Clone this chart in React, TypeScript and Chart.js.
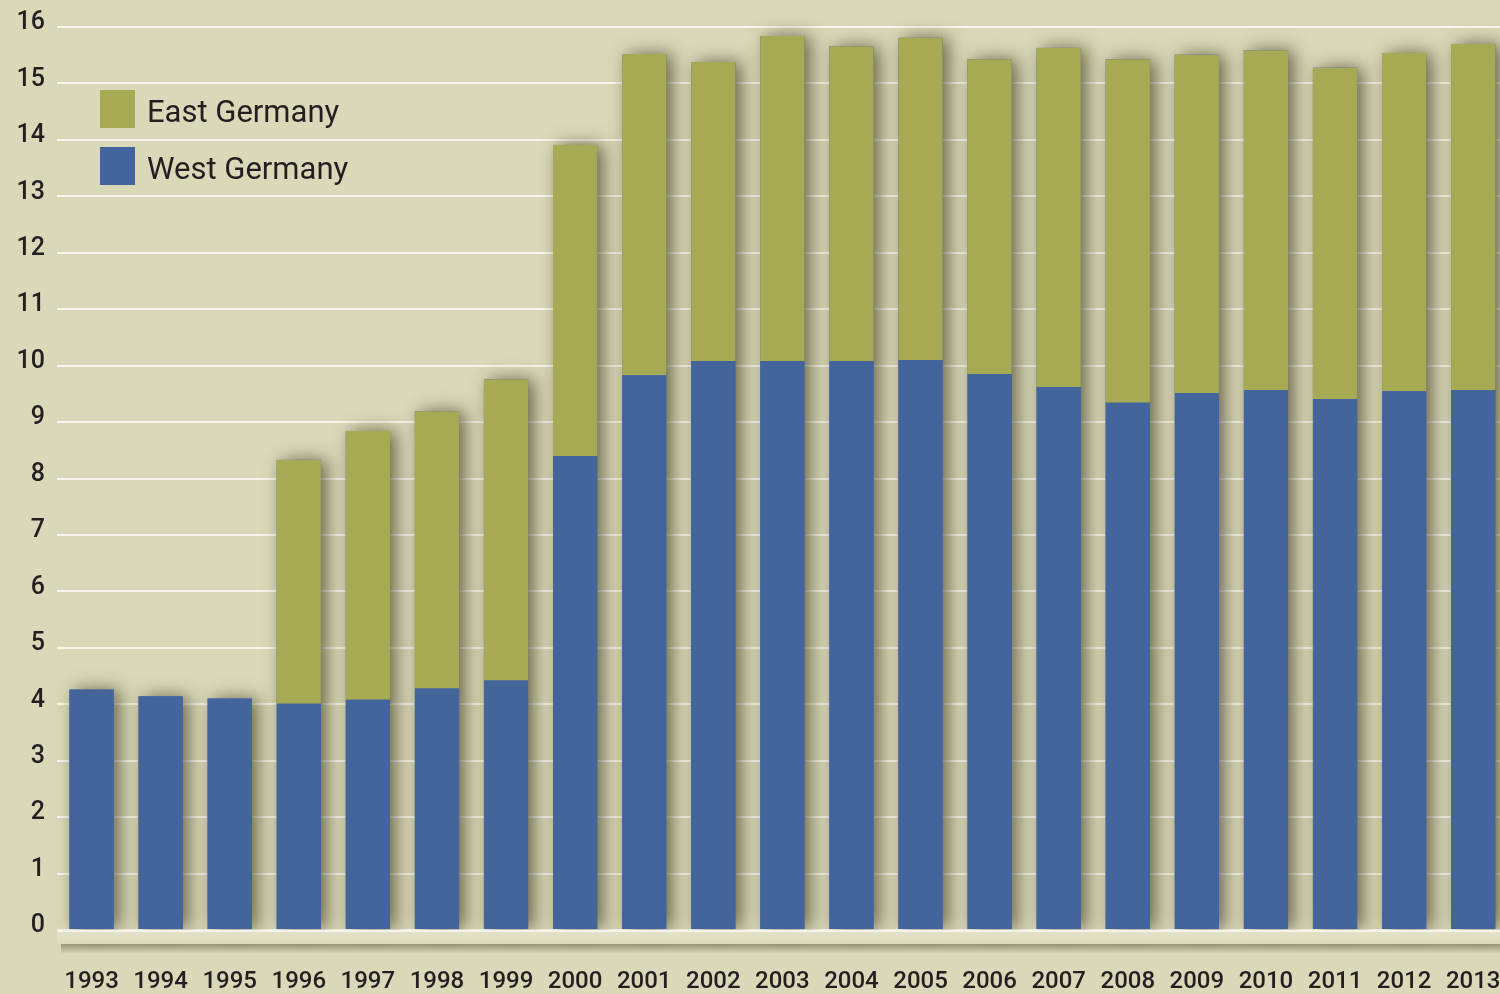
import React, { useEffect, useRef } from "react";
import { Chart, registerables } from "chart.js";

Chart.register(...registerables);

const years = ["1993","1994","1995","1996","1997","1998","1999","2000","2001","2002","2003","2004","2005","2006","2007","2008","2009","2010","2011","2012","2013"];
const westGermany = [4.26, 4.14, 4.10, 4.01, 4.08, 4.28, 4.42, 8.40, 9.83, 10.08, 10.08, 10.08, 10.10, 9.85, 9.62, 9.34, 9.51, 9.57, 9.41, 9.55, 9.57];
const eastGermany = [0, 0, 0, 4.32, 4.76, 4.91, 5.34, 5.51, 5.69, 5.30, 5.76, 5.58, 5.71, 5.58, 6.01, 6.09, 6.00, 6.02, 5.87, 5.99, 6.13];
const yTicks = [0, 16, 1];

const BG = "#d9d8b8";
const BLUE = "#44659c";
const OLIVE = "#a6aa55";
const TEXT = "#231f20";

const bgPlugin = {
  id: "bg",
  beforeDraw(chart: any) {
    const { ctx, width, height } = chart;
    ctx.save();
    ctx.fillStyle = BG;
    ctx.fillRect(0, 0, width, height);
    ctx.restore();
  },
};

const shadowPlugin = {
  id: "barShadow",
  beforeDatasetsDraw(chart: any) {
    const { ctx } = chart;
    const bottom = chart.getDatasetMeta(0);
    const top = chart.getDatasetMeta(1);
    ctx.save();
    ctx.shadowColor = "rgba(70,65,35,0.75)";
    ctx.shadowBlur = 18;
    ctx.shadowOffsetX = 6;
    ctx.shadowOffsetY = 0;
    bottom.data.forEach((b: any, i: number) => {
      const t = top.data[i];
      const yTop = Math.min(b.y, t ? t.y : b.y);
      const w = b.width;
      ctx.fillStyle = BLUE;
      ctx.fillRect(b.x - w / 2, yTop, w, b.base - yTop);
    });
    ctx.restore();
  },
};

const floorPlugin = {
  id: "floor",
  afterDatasetsDraw(chart: any) {
    const { ctx, chartArea } = chart;
    const y0 = chart.scales.y.getPixelForValue(0);
    const left = chartArea.left;
    const right = chart.width;
    ctx.save();
    ctx.fillStyle = "#f4f3ea";
    ctx.fillRect(left, y0, right - left, 2);
    const g = ctx.createLinearGradient(0, y0 + 2, 0, y0 + 14);
    g.addColorStop(0, "#e3e2c9");
    g.addColorStop(1, "#dcdbbd");
    ctx.fillStyle = g;
    ctx.fillRect(left, y0 + 2, right - left, 12);
    const s = ctx.createLinearGradient(0, y0 + 14, 0, y0 + 24);
    s.addColorStop(0, "rgba(90,85,55,0.5)");
    s.addColorStop(1, "rgba(90,85,55,0)");
    ctx.fillStyle = s;
    ctx.fillRect(left + 4, y0 + 14, right - left, 10);
    ctx.restore();
  },
};

const legendItems = [
  { label: "East Germany", color: OLIVE },
  { label: "West Germany", color: BLUE },
];

const legendPlugin = {
  id: "customLegend",
  afterDraw(chart: any) {
    const { ctx } = chart;
    ctx.save();
    const x = 100;
    let y = 90;
    legendItems.forEach((it) => {
      ctx.fillStyle = it.color;
      ctx.fillRect(x, y, 35, 38);
      ctx.fillStyle = TEXT;
      ctx.font = "400 31px Roboto";
      ctx.textBaseline = "middle";
      ctx.textAlign = "left";
      ctx.fillText(it.label, x + 47, y + 24);
      y += 57;
    });
    ctx.restore();
  },
};

export default function App() {
  const ref = useRef<HTMLCanvasElement>(null);
  useEffect(() => {
    if (!ref.current) return;
    const chart = new Chart(ref.current, {
      type: "bar",
      data: {
        labels: years,
        datasets: [
          { label: "West Germany", data: westGermany, backgroundColor: BLUE, borderWidth: 0 },
          { label: "East Germany", data: eastGermany, backgroundColor: OLIVE, borderWidth: 0 },
        ],
      },
      options: {
        responsive: false,
        animation: false,
        devicePixelRatio: 1,
        layout: { padding: { top: 25, right: 22, left: 0, bottom: 0 } },
        datasets: { bar: { categoryPercentage: 1, barPercentage: 0.64 } },
        plugins: { legend: { display: false }, tooltip: { enabled: false } },
        scales: {
          x: {
            stacked: true,
            grid: { display: false, drawTicks: false },
            border: { display: false },
            ticks: { color: TEXT, font: { family: "Roboto", size: 24, weight: "500" }, padding: 38, maxRotation: 0, autoSkip: false },
            afterFit: (s: any) => { s.height = 64; },
          },
          y: {
            stacked: true,
            min: yTicks[0],
            max: yTicks[1],
            grid: { color: "#f7f6ee", lineWidth: 2, drawTicks: false },
            border: { display: false },
            ticks: { stepSize: yTicks[2], color: TEXT, font: { family: "Roboto", size: 25, weight: "500" }, padding: 12, labelOffset: -4 },
            afterFit: (s: any) => { s.width = 57; },
          },
        },
      },
      plugins: [bgPlugin, shadowPlugin, floorPlugin, legendPlugin],
    } as any);
    return () => chart.destroy();
  }, []);
  return (
    <div style={{ position: "fixed", left: 0, top: 0, width: 1500, height: 994, overflow: "hidden", background: BG }}>
      <canvas ref={ref} width={1539} height={994} style={{ display: "block", width: 1539, height: 994 }} />
    </div>
  );
}
